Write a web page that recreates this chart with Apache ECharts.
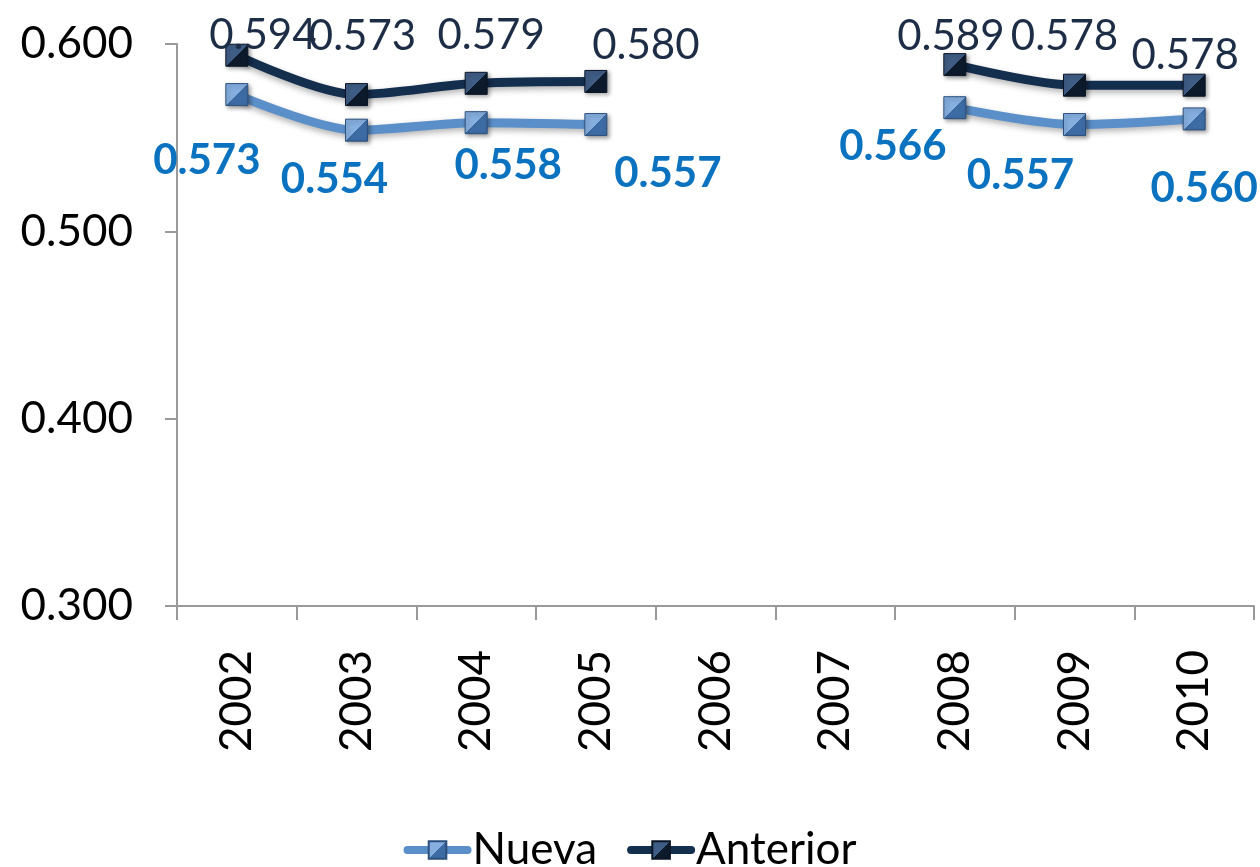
<!DOCTYPE html>
<html>
<head>
  <meta charset="utf-8" />
  <title>ECharts</title>
  <script src="https://cdn.jsdelivr.net/npm/echarts@6/dist/echarts.min.js"></script>
  <style>
    html, body { margin: 0; padding: 0; background: #fff; }
  </style>
</head>
<body>
<div id="main" style="width:1260px;height:867px;"></div>
<script type="text/javascript">
  var years = ['2002', '2003', '2004', '2005', '2006', '2007', '2008', '2009', '2010'];
  var nueva = [0.573, 0.554, 0.558, 0.557, null, null, 0.566, 0.557, 0.560];
  var anterior = [0.594, 0.573, 0.579, 0.580, null, null, 0.589, 0.578, 0.578];
  var yTicks = [0.3, 0.4, 0.5, 0.6];

  // label nudges, taken from where the original labels sit
  var nuevaOffsets = [[-30, 23], [-22, 7], [32, 0], [72, 6], [0, 0], [0, 0], [-62, -4], [-54, 8], [10, 27]];
  var anteriorOffsets = [[26, 17], [6, -22], [15, -11], [50, 0], [0, 0], [0, 0], [-4, 8], [-10, -12], [-9, 7]];

  var font = 'Lato, "DejaVu Sans", sans-serif';

  function bevel(light, dark) {
    return new echarts.graphic.LinearGradient(0, 0, 1, 1, [
      { offset: 0, color: light },
      { offset: 0.5, color: light },
      { offset: 0.5, color: dark },
      { offset: 1, color: dark }
    ]);
  }

  function points(values, offsets) {
    return values.map(function (v, i) {
      return { value: v, label: { offset: offsets[i] } };
    });
  }

  var myChart = echarts.init(document.getElementById('main'));
  var option = {
    backgroundColor: '#fff',
    animation: false,
    grid: { left: 177, right: 6, top: 44, bottom: 261, containLabel: false },
    legend: {
      bottom: -10,
      left: 'center',
      itemWidth: 60,
      itemHeight: 22,
      itemGap: 30,
      lineStyle: { width: 8, cap: 'round', shadowBlur: 0 },
      textStyle: { fontSize: 44, color: '#000', fontFamily: font },
      data: ['Nueva', 'Anterior']
    },
    xAxis: {
      type: 'category',
      data: years,
      boundaryGap: true,
      axisLine: { lineStyle: { color: '#999', width: 2 } },
      axisTick: { show: true, length: 14, alignWithLabel: false, lineStyle: { color: '#999', width: 2 } },
      axisLabel: { rotate: 90, margin: 44, fontSize: 44, color: '#000', fontFamily: font },
      splitLine: { show: false }
    },
    yAxis: {
      type: 'value',
      min: yTicks[0],
      max: yTicks[yTicks.length - 1],
      interval: 0.1,
      axisLine: { show: true, lineStyle: { color: '#999', width: 2 } },
      axisTick: { show: true, length: 12, lineStyle: { color: '#999', width: 2 } },
      axisLabel: {
        margin: 44,
        fontSize: 44,
        color: '#000',
        fontFamily: font,
        formatter: function (v) { return v.toFixed(3); }
      },
      splitLine: { show: false }
    },
    series: [
      {
        name: 'Nueva',
        type: 'line',
        smooth: 0.3,
        connectNulls: false,
        data: points(nueva, nuevaOffsets),
        symbol: 'rect',
        symbolSize: 22,
        color: '#5b8fc9',
        lineStyle: { width: 9, color: '#5b8fc9', cap: 'round', shadowBlur: 6, shadowColor: 'rgba(0,0,0,0.3)', shadowOffsetY: 3 },
        itemStyle: { color: bevel('#86afe0', '#3d6ba3'), borderColor: '#2c4f7c', borderWidth: 1, shadowBlur: 4, shadowColor: 'rgba(0,0,0,0.35)', shadowOffsetX: 2, shadowOffsetY: 2 },
        label: {
          show: true,
          position: 'bottom',
          distance: 10,
          fontSize: 42,
          fontWeight: 'bold',
          color: '#0b72c0',
          fontFamily: font,
          formatter: function (p) { return p.value == null ? '' : p.value.toFixed(3); }
        }
      },
      {
        name: 'Anterior',
        type: 'line',
        smooth: 0.3,
        connectNulls: false,
        data: points(anterior, anteriorOffsets),
        symbol: 'rect',
        symbolSize: 22,
        color: '#142e4e',
        lineStyle: { width: 9, color: '#142e4e', cap: 'round', shadowBlur: 6, shadowColor: 'rgba(0,0,0,0.3)', shadowOffsetY: 3 },
        itemStyle: { color: bevel('#3f5d85', '#0c1a2c'), borderColor: '#0a1626', borderWidth: 1, shadowBlur: 4, shadowColor: 'rgba(0,0,0,0.35)', shadowOffsetX: 2, shadowOffsetY: 2 },
        label: {
          show: true,
          position: 'top',
          distance: 4,
          fontSize: 42,
          color: '#1c2d45',
          fontFamily: font,
          formatter: function (p) { return p.value == null ? '' : p.value.toFixed(3); }
        }
      }
    ]
  };
  myChart.setOption(option);
</script>
</body>
</html>
